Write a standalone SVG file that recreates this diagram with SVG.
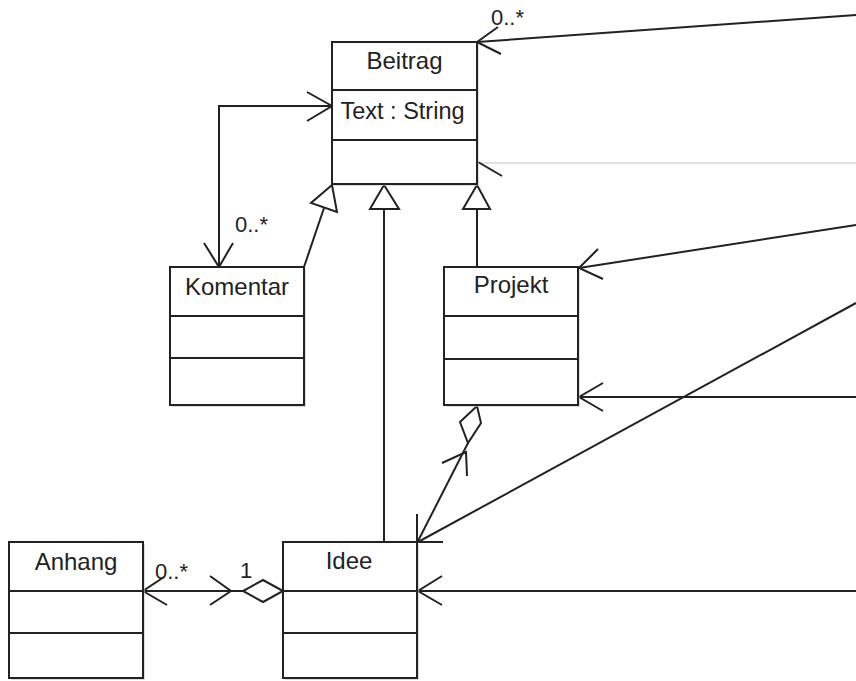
<svg xmlns="http://www.w3.org/2000/svg" width="856" height="681" viewBox="0 0 856 681">
<style>
.box{fill:#fff;stroke:#222;stroke-width:2}
.shd{fill:#c8c8c8;opacity:.6}
.div{stroke:#222;stroke-width:2}
.nm{font-family:"Liberation Sans",Arial,sans-serif;font-size:24px;fill:#222;text-anchor:middle}
.ml{font-family:"Liberation Sans",Arial,sans-serif;font-size:22px;fill:#222}
.ln{stroke:#222;stroke-width:2;fill:none}
.lt{stroke:#d8d8d8;stroke-width:1.5;fill:none}
.tri{stroke:#222;stroke-width:2;fill:#fff}
</style>
<rect width="856" height="681" fill="#fff"/>

<g id="connectors">
  <polyline class="ln" points="856,15 477,42"/>
  <polyline class="ln" points="498,27 477,42 501,54"/>
  <polyline class="lt" points="856,163 480,163"/>
  <polyline class="ln" points="478,162 502,176"/>
  <polyline class="ln" points="856,225 579,268"/>
  <polyline class="ln" points="598,249 579,268 603,279"/>
  <polyline class="ln" points="856,397 579,397"/>
  <polyline class="ln" points="603,383 579,397 603,411"/>
  <polyline class="ln" points="856,303 418,542"/>
  <polyline class="ln" points="443,542 417,542 417,514"/>
  <polyline class="ln" points="856,591 418,591"/>
  <polyline class="ln" points="442,576 418,591 442,605"/>
  <polyline class="ln" points="219,267 219,106 332,106"/>
  <polyline class="ln" points="307,92 332,106 307,121"/>
  <polyline class="ln" points="204,243 219,267 233,243"/>
  <text class="ml" x="235" y="232">0..*</text>
  <line class="ln" x1="304" y1="267" x2="324" y2="208"/>
  <polygon class="tri" points="332,185 311,203 337,212"/>
  <line class="ln" x1="384" y1="542" x2="384" y2="209"/>
  <polygon class="tri" points="384,185 370,209 399,209"/>
  <line class="ln" x1="477" y1="267" x2="477" y2="209"/>
  <polygon class="tri" points="477,185 463,209 490,209"/>
  <polygon class="tri" points="477,406 460,422 468,443 481,423"/>
  <line class="ln" x1="468" y1="443" x2="418" y2="541"/>
  <polyline class="ln" points="442,463 466,452 467,476"/>
  <line class="ln" x1="143" y1="591" x2="243" y2="591"/>
  <polygon class="tri" points="283,591 263,580 243,591 263,602"/>
  <polyline class="ln" points="210,576 231,591 210,605"/>
  <polyline class="ln" points="164,577 143,591 167,605"/>
  <text class="ml" x="155" y="579">0..*</text>
  <text class="ml" x="240" y="578">1</text>
  <text class="ml" x="491" y="25">0..*</text>
</g>

<g id="Beitrag">
  <rect class="shd" x="334" y="44" width="145" height="142"/>
  <rect class="box" x="332" y="42" width="145" height="142"/>
  <line class="div" x1="332" y1="90" x2="477" y2="90"/>
  <line class="div" x1="332" y1="140" x2="477" y2="140"/>
  <text class="nm" x="404.5" y="69">Beitrag</text>
  <text class="nm" x="402.5" y="119" style="font-size:23.5px">Text : String</text>
</g>

<g id="Komentar">
  <rect class="shd" x="172" y="269" width="134" height="138"/>
  <rect class="box" x="170" y="267" width="134" height="138"/>
  <line class="div" x1="170" y1="316" x2="304" y2="316"/>
  <line class="div" x1="170" y1="358" x2="304" y2="358"/>
  <text class="nm" x="237" y="295">Komentar</text>
</g>

<g id="Projekt">
  <rect class="shd" x="446" y="269" width="134" height="138"/>
  <rect class="box" x="444" y="267" width="134" height="138"/>
  <line class="div" x1="444" y1="316" x2="578" y2="316"/>
  <line class="div" x1="444" y1="359" x2="578" y2="359"/>
  <text class="nm" x="511" y="293">Projekt</text>
</g>

<g id="Idee">
  <rect class="shd" x="285" y="544" width="134" height="136"/>
  <rect class="box" x="283" y="542" width="134" height="136"/>
  <line class="div" x1="283" y1="591" x2="417" y2="591"/>
  <line class="div" x1="283" y1="633" x2="417" y2="633"/>
  <text class="nm" x="349" y="569">Idee</text>
</g>

<g id="Anhang">
  <rect class="shd" x="11" y="544" width="134" height="136"/>
  <rect class="box" x="9" y="542" width="134" height="136"/>
  <line class="div" x1="9" y1="591" x2="143" y2="591"/>
  <line class="div" x1="9" y1="633" x2="143" y2="633"/>
  <text class="nm" x="76" y="570">Anhang</text>
</g>
</svg>
